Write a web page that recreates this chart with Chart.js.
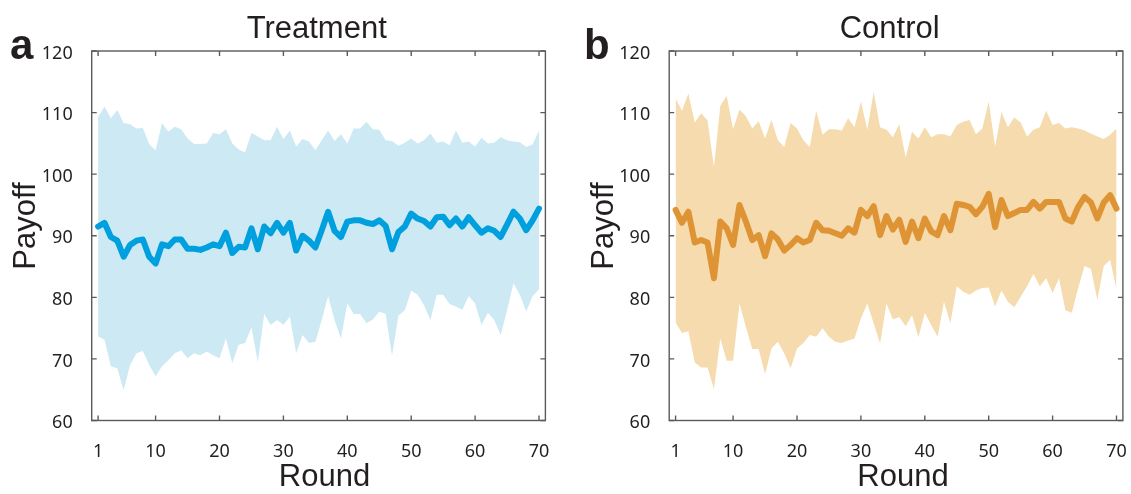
<!DOCTYPE html>
<html>
<head>
<meta charset="utf-8">
<script src="https://cdn.jsdelivr.net/npm/chart.js@4.4.1/dist/chart.umd.min.js"></script>
<style>
html, body { margin: 0; padding: 0; background: #ffffff; }
#wrap { position: relative; width: 1131px; height: 494px; overflow: hidden; }
.panel { position: absolute; top: 0; height: 494px; }
</style>
</head>
<body>
<div id="wrap">
  <div class="panel" style="left:0px;width:565px"><canvas id="chartA" width="565" height="494"></canvas></div>
  <div class="panel" style="left:565px;width:566px"><canvas id="chartB" width="566" height="494"></canvas></div>
</div>
<script>
// ---------------- data ----------------
const rounds = [1,2,3,4,5,6,7,8,9,10,11,12,13,14,15,16,17,18,19,20,
  21,22,23,24,25,26,27,28,29,30,31,32,33,34,35,36,37,38,39,40,
  41,42,43,44,45,46,47,48,49,50,51,52,53,54,55,56,57,58,59,60,
  61,62,63,64,65,66,67,68,69,70];
const xTickValues = [1, 10, 20, 30, 40, 50, 60, 70];
const yTickValues = [60, 70, 80, 90, 100, 110, 120];

const treatmentMean = [
  91.5, 92.1, 89.8, 89.2, 86.6, 88.5, 89.2, 89.4, 86.6, 85.5,
  88.6, 88.3, 89.4, 89.4, 87.9, 87.9, 87.7, 88.1, 88.6, 88.3,
  90.5, 87.2, 88.2, 88.1, 91.2, 87.8, 91.5, 90.4, 92.1, 90.5,
  92.1, 87.6, 90.0, 89.2, 88.1, 90.9, 93.9, 90.8, 89.8, 92.3,
  92.5, 92.5, 92.1, 91.9, 92.5, 91.6, 87.8, 90.6, 91.5, 93.6,
  92.8, 92.4, 91.5, 93.0, 93.1, 91.7, 92.8, 91.5, 93.0, 91.7,
  90.5, 91.2, 90.8, 89.8, 91.8, 93.9, 92.8, 90.9, 92.5, 94.4];
const treatmentUpper = [
  109.3, 111.0, 109.1, 110.4, 108.3, 108.1, 107.4, 107.5, 104.9, 103.9,
  108.3, 106.9, 107.7, 107.3, 105.8, 104.9, 104.9, 105.0, 106.7, 106.5,
  107.3, 105.0, 104.0, 103.5, 106.7, 106.1, 105.5, 105.5, 107.7, 105.7,
  107.1, 104.5, 105.7, 105.3, 103.9, 105.5, 107.1, 105.4, 106.5, 105.0,
  107.4, 107.4, 108.5, 107.3, 107.2, 105.5, 105.4, 104.6, 105.1, 105.8,
  105.0, 105.5, 106.6, 105.1, 105.3, 104.7, 107.1, 105.1, 105.3, 104.5,
  105.9, 105.0, 105.1, 106.0, 105.5, 105.3, 105.2, 104.4, 104.8, 107.1];
const treatmentLower = [
  73.7, 73.1, 68.8, 68.5, 64.9, 69.0, 70.9, 71.3, 69.0, 67.2,
  68.8, 69.8, 70.9, 71.4, 70.1, 70.9, 70.6, 71.2, 70.6, 70.1,
  73.3, 69.3, 72.3, 72.6, 75.1, 69.5, 77.3, 75.5, 76.3, 75.5,
  76.9, 70.9, 73.9, 72.6, 72.8, 76.3, 80.2, 76.3, 73.3, 79.0,
  77.3, 77.3, 75.8, 76.4, 77.7, 77.3, 70.5, 77.0, 77.9, 81.1,
  80.4, 78.7, 76.3, 80.4, 80.4, 78.9, 78.5, 78.0, 80.2, 79.0,
  75.5, 77.5, 76.3, 73.9, 77.9, 82.3, 80.4, 77.7, 80.2, 81.3];

const controlMean = [
  94.2, 92.1, 93.9, 88.9, 89.3, 88.9, 83.1, 92.3, 91.2, 88.5,
  95.0, 92.3, 89.3, 90.1, 86.7, 90.4, 89.4, 87.6, 88.5, 89.6,
  88.9, 89.3, 92.1, 90.9, 90.8, 90.4, 90.0, 91.2, 90.5, 94.2,
  93.2, 94.8, 90.1, 93.2, 91.0, 92.6, 89.0, 92.3, 89.6, 92.8,
  90.7, 90.1, 93.2, 90.9, 95.2, 95.0, 94.7, 93.5, 94.7, 96.8,
  91.4, 95.8, 93.2, 93.7, 94.2, 94.2, 95.5, 94.4, 95.5, 95.5,
  95.5, 92.8, 92.3, 94.7, 96.3, 95.4, 92.8, 95.4, 96.6, 94.4];
const controlUpper = [
  112.3, 110.3, 113.1, 108.4, 109.9, 108.7, 101.2, 111.1, 112.7, 107.3,
  110.5, 109.4, 107.4, 108.6, 105.8, 108.8, 105.5, 104.4, 108.3, 107.4,
  105.5, 104.4, 110.3, 106.4, 107.3, 107.3, 107.1, 109.1, 107.6, 111.8,
  107.2, 113.4, 107.6, 107.2, 106.0, 108.1, 102.7, 106.9, 105.8, 107.6,
  106.0, 106.5, 106.5, 106.1, 108.0, 108.5, 108.8, 106.5, 107.4, 111.8,
  104.5, 110.1, 107.6, 109.2, 108.4, 106.1, 107.2, 107.6, 110.3, 108.0,
  108.3, 107.4, 107.6, 107.4, 107.1, 106.6, 106.1, 105.7, 106.4, 107.4];
const controlLower = [
  75.9, 74.2, 74.5, 69.4, 68.6, 68.6, 65.1, 73.3, 69.7, 69.7,
  79.0, 75.2, 71.6, 71.6, 67.5, 71.7, 72.8, 70.9, 68.5, 71.7,
  72.6, 73.9, 73.6, 75.0, 73.6, 72.8, 72.6, 73.0, 73.3, 76.6,
  79.0, 75.8, 72.5, 79.0, 76.4, 76.8, 75.3, 77.1, 73.5, 77.5,
  75.5, 73.6, 79.3, 75.8, 81.8, 80.9, 80.4, 81.1, 81.5, 81.6,
  78.5, 81.1, 79.3, 78.4, 80.1, 81.8, 83.8, 81.8, 83.1, 80.7,
  83.1, 77.9, 77.5, 81.5, 85.1, 84.6, 79.6, 85.1, 86.1, 81.3];

// ---------------- styling ----------------
const TEXT = '#231f20';
const FRAME = '#5b5b5b';
const LABEL_FONT = "'Liberation Sans', Arial, Helvetica, sans-serif";
const TICK_FONT = "'Noto Sans', 'Open Sans', sans-serif";

const framePlugin = {
  id: 'frameText',
  afterDraw(chart, args, o) {
    const { ctx, chartArea: a, scales: { x, y } } = chart;
    ctx.save();
    // box
    ctx.strokeStyle = FRAME;
    ctx.lineWidth = 1.4;
    ctx.strokeRect(a.left, a.top, a.right - a.left, a.bottom - a.top);
    // inward ticks on all four sides
    const L = 5;
    ctx.beginPath();
    x.ticks.forEach(t => {
      const px = x.getPixelForValue(t.value);
      ctx.moveTo(px, a.bottom); ctx.lineTo(px, a.bottom - L);
      ctx.moveTo(px, a.top); ctx.lineTo(px, a.top + L);
    });
    y.ticks.forEach(t => {
      const py = y.getPixelForValue(t.value);
      ctx.moveTo(a.left, py); ctx.lineTo(a.left + L, py);
      ctx.moveTo(a.right, py); ctx.lineTo(a.right - L, py);
    });
    ctx.stroke();

    ctx.fillStyle = TEXT;
    ctx.textBaseline = 'alphabetic';
    // panel letter
    ctx.font = 'bold 42px ' + LABEL_FONT;
    ctx.textAlign = 'left';
    ctx.fillText(o.letter, o.letterX, o.letterY);
    // title
    ctx.font = '31px ' + LABEL_FONT;
    ctx.textAlign = 'center';
    ctx.fillText(o.title, o.titleX, o.titleY);
    // x axis label
    ctx.fillText(o.xLabel, o.xLabelX, o.xLabelY);
    // y axis label
    ctx.save();
    ctx.translate(o.yLabelX, o.yLabelY);
    ctx.rotate(-Math.PI / 2);
    ctx.fillText(o.yLabel, 0, 0);
    ctx.restore();
    ctx.restore();
  }
};

function makePanel(canvasId, mean, lower, upper, lineColor, bandColor, geom, text) {
  const toXY = arr => rounds.map((r, i) => ({ x: r, y: arr[i] }));
  return new Chart(document.getElementById(canvasId), {
    type: 'line',
    data: {
      datasets: [
        { label: 'Mean', data: toXY(mean), borderColor: lineColor, borderWidth: 6,
          pointRadius: 0, fill: false, tension: 0, borderJoinStyle: 'round', borderCapStyle: 'round' },
        { label: 'Lower', data: toXY(lower), borderColor: 'rgba(0,0,0,0)', borderWidth: 0,
          pointRadius: 0, fill: false, tension: 0 },
        { label: 'Upper', data: toXY(upper), borderColor: 'rgba(0,0,0,0)', borderWidth: 0,
          pointRadius: 0, fill: 1, backgroundColor: bandColor, tension: 0 }
      ]
    },
    options: {
      responsive: false,
      animation: false,
      devicePixelRatio: 1,
      layout: { padding: { top: 51, bottom: 0, left: 0, right: geom.padRight } },
      plugins: {
        legend: { display: false },
        tooltip: { enabled: false },
        title: { display: false },
        frameText: text
      },
      scales: {
        x: {
          type: 'linear', min: 0, max: 71,
          afterBuildTicks: s => { s.ticks = xTickValues.map(v => ({ value: v })); },
          afterFit: s => { s.height = 73.5; s.paddingLeft = 0; s.paddingRight = 0; },
          grid: { display: false }, border: { display: false },
          ticks: { color: TEXT, font: { family: TICK_FONT, size: 18 }, padding: 13,
                   maxRotation: 0, autoSkip: false }
        },
        y: {
          type: 'linear', min: 60, max: 120,
          afterBuildTicks: s => { s.ticks = yTickValues.map(v => ({ value: v })); },
          afterFit: s => { s.width = geom.yWidth; s.paddingTop = 0; s.paddingBottom = 0; },
          grid: { display: false }, border: { display: false },
          ticks: { color: TEXT, font: { family: TICK_FONT, size: 18 }, padding: 11, labelOffset: 2.5 }
        }
      }
    },
    plugins: [framePlugin]
  });
}

makePanel('chartA', treatmentMean, treatmentLower, treatmentUpper,
  '#00a0de', '#cce9f4',
  { yWidth: 91.7, padRight: 19.6 },
  { letter: 'a', letterX: 10, letterY: 59, title: 'Treatment', titleX: 316.7, titleY: 37.5,
    xLabel: 'Round', xLabelX: 324.5, xLabelY: 486, yLabel: 'Payoff', yLabelX: 35, yLabelY: 226 });

makePanel('chartB', controlMean, controlLower, controlUpper,
  '#de9434', '#f5dbad',
  { yWidth: 104.2, padRight: 8.1 },
  { letter: 'b', letterX: 19, letterY: 59, title: 'Control', titleX: 324.7, titleY: 37.5,
    xLabel: 'Round', xLabelX: 338, xLabelY: 486, yLabel: 'Payoff', yLabelX: 47.5, yLabelY: 226 });
</script>
</body>
</html>
